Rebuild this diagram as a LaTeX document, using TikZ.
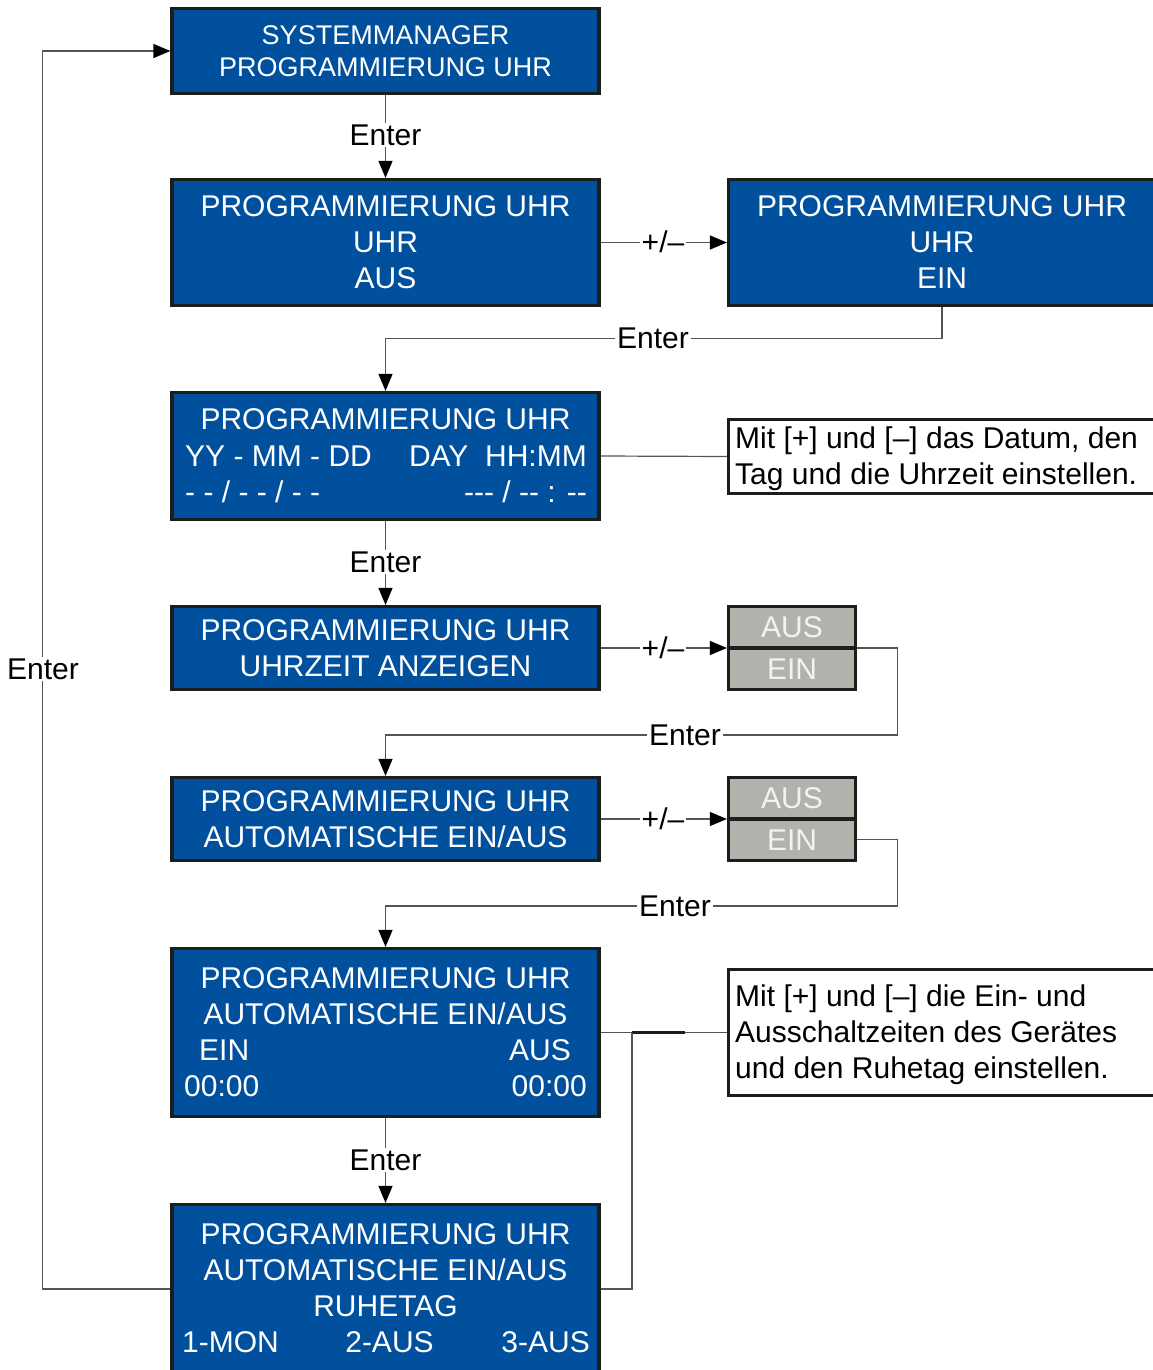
\documentclass[tikz,border=0pt]{standalone}
\usepackage{fontspec}
\setmainfont{Liberation Sans}
\usetikzlibrary{arrows.meta}
\definecolor{lcdblue}{RGB}{0,80,158}
\definecolor{frame}{RGB}{29,29,27}
\definecolor{keygrey}{RGB}{178,177,172}
\definecolor{keytext}{RGB}{242,242,242}
\definecolor{wire}{RGB}{85,85,85}
\newcommand{\txtbig}{\fontsize{30}{36}\selectfont}
\newcommand{\txtsmall}{\fontsize{27}{32}\selectfont}
\tikzset{
  panel/.style={draw=frame, line width=3.2pt, fill=lcdblue, inner sep=0pt, minimum width=427pt},
  keybox/.style={draw=frame, line width=3.2pt, fill=keygrey, inner sep=0pt, minimum width=127pt, minimum height=41.5pt},
  notebox/.style={draw=frame, line width=3pt, fill=white, inner sep=0pt, minimum width=427pt},
  lcd/.style={text=white, font=\txtbig, inner sep=0pt, anchor=base},
  lcdl/.style={lcd, anchor=base west},
  lcdr/.style={lcd, anchor=base east},
  keylbl/.style={text=keytext, font=\txtbig, inner sep=0pt, anchor=base},
  notetxt/.style={text=black, font=\txtbig, inner sep=0pt, anchor=base west},
  lbl/.style={fill=white, text=black, font=\txtbig, inner sep=2pt},
  wire/.style={draw=wire, line width=1.2pt},
  flow/.style={wire, -{Triangle[length=17pt,width=14pt,color=black]}},
}
\begin{document}
\begin{tikzpicture}[x=1pt,y=-1pt]
\useasboundingbox (0,0) rectangle (1153,1370);
\clip (0,0) rectangle (1153,1370);

% display panels
\node[panel, minimum height=85pt]  (p1)  at (385.5,51) {};
\node[panel, minimum height=126pt] (p2)  at (385.5,242.5) {};
\node[panel, minimum height=126pt] (p2r) at (942,242.5) {};
\node[panel, minimum height=127pt] (p3)  at (385.5,456) {};
\node[panel, minimum height=83pt]  (p4)  at (385.5,648) {};
\node[panel, minimum height=83pt]  (p5)  at (385.5,819) {};
\node[panel, minimum height=168pt] (p6)  at (385.5,1032.5) {};
\node[panel, minimum height=200pt] (p7)  at (385.5,1304.5) {};

% selector keys
\node[keybox] (g1a) at (792,627.25) {};
\node[keybox] (g1b) at (792,668.75) {};
\node[keybox] (g2a) at (792,798.25) {};
\node[keybox] (g2b) at (792,839.75) {};

% notes
\node[notebox, minimum height=74pt]  (n1) at (942,456.5) {};
\node[notebox, minimum height=126pt] (n2) at (942,1032.5) {};

% panel texts
\node[lcd, font=\txtsmall] (t1a) at (385.5,45) {SYSTEMMANAGER};
\node[lcd, font=\txtsmall] (t1b) at (385.5,77) {PROGRAMMIERUNG UHR};

\node[lcd] (t2a) at (385.5,216) {PROGRAMMIERUNG UHR};
\node[lcd] (t2b) at (385.5,252) {UHR};
\node[lcd] (t2c) at (385.5,288) {AUS};

\node[lcd] (t2ra) at (942,216) {PROGRAMMIERUNG UHR};
\node[lcd] (t2rb) at (942,252) {UHR};
\node[lcd] (t2rc) at (942,288) {EIN};

\node[lcd]  (t3a) at (385.5,429) {PROGRAMMIERUNG UHR};
\node[lcdl] (t3b) at (185,466) {YY - MM - DD};
\node[lcdr] (t3c) at (587,466) {DAY\ \ HH:MM};
\node[lcdl] (t3d) at (185,502) {- - / - - / - -};
\node[lcdr] (t3e) at (587,502) {-{}-{}- / -{}- : -{}-};

\node[lcd] (t4a) at (385.5,640) {PROGRAMMIERUNG UHR};
\node[lcd] (t4b) at (385.5,676) {UHRZEIT ANZEIGEN};

\node[lcd] (t5a) at (385.5,811) {PROGRAMMIERUNG UHR};
\node[lcd] (t5b) at (385.5,847) {AUTOMATISCHE EIN/AUS};

\node[lcd]  (t6a) at (385.5,988) {PROGRAMMIERUNG UHR};
\node[lcd]  (t6b) at (385.5,1024) {AUTOMATISCHE EIN/AUS};
\node[lcdl] (t6c) at (199,1060) {EIN};
\node[lcdr] (t6d) at (571,1060) {AUS};
\node[lcdl] (t6e) at (184,1096) {00:00};
\node[lcdr] (t6f) at (587,1096) {00:00};

\node[lcd]  (t7a) at (385.5,1244) {PROGRAMMIERUNG UHR};
\node[lcd]  (t7b) at (385.5,1280) {AUTOMATISCHE EIN/AUS};
\node[lcd]  (t7c) at (385.5,1316) {RUHETAG};
\node[lcdl] (t7d) at (182,1352) {1-MON};
\node[lcd]  (t7e) at (389.5,1352) {2-AUS};
\node[lcdr] (t7f) at (590,1352) {3-AUS};

% key texts
\node[keylbl] (k1a) at (792,637) {AUS};
\node[keylbl] (k1b) at (792,679) {EIN};
\node[keylbl] (k2a) at (792,808) {AUS};
\node[keylbl] (k2b) at (792,850) {EIN};

% note texts
\node[notetxt] (m1a) at (735,448) {Mit [+] und [–] das Datum, den};
\node[notetxt] (m1b) at (735,484) {Tag und die Uhrzeit einstellen.};
\node[notetxt] (m2a) at (735,1006) {Mit [+] und [–] die Ein- und};
\node[notetxt] (m2b) at (735,1042) {Ausschaltzeiten des Gerätes};
\node[notetxt] (m2c) at (735,1078) {und den Ruhetag einstellen.};

% junction points
\coordinate (jn) at (632,1032.5);
\coordinate (r7) at (385.5,1289);

% connectors
\draw[flow] (p1.south) -- (p2.north);
\draw[flow] (p2.east) -- (p2r.west);
\draw[flow] (p2r.south) -- ++(0,31) -| (p3.north);
\draw[wire] (p3.east) -- (n1.west);
\draw[flow] (p3.south) -- (p4.north);
\draw[flow] (p4.east) -- (p4.east -| g1a.west);
\draw[flow] (p4.east -| g1a.east) -- ++(40,0) -- ++(0,87) -| (p5.north);
\draw[flow] (p5.east) -- (p5.east -| g2a.west);
\draw[flow] (g2b.east) -- ++(40,0) -- ++(0,66.25) -| (p6.north);
\draw[wire] (p6.east) -- (n2.west);
\draw[draw=frame, line width=2.5pt] (jn) -- ++(53,0);
\draw[wire] (r7 -| p7.east) -| (jn);
\draw[flow] (p6.south) -- (p7.north);
\draw[flow] (r7 -| p7.west) -- ++(-128,0) |- (p1.west);

% connector labels
\node[lbl] (e1) at (385.5,135) {Enter};
\node[lbl] (s1) at (663,242) {+/–};
\node[lbl] (e2) at (653,338) {Enter};
\node[lbl] (e3) at (385.5,562) {Enter};
\node[lbl] (s2) at (663,648) {+/–};
\node[lbl] (e4) at (685,735) {Enter};
\node[lbl] (s3) at (663,819) {+/–};
\node[lbl] (e5) at (675,906) {Enter};
\node[lbl] (e6) at (385.5,1160) {Enter};
\node[lbl] (e7) at (43,669) {Enter};
\end{tikzpicture}
\end{document}
